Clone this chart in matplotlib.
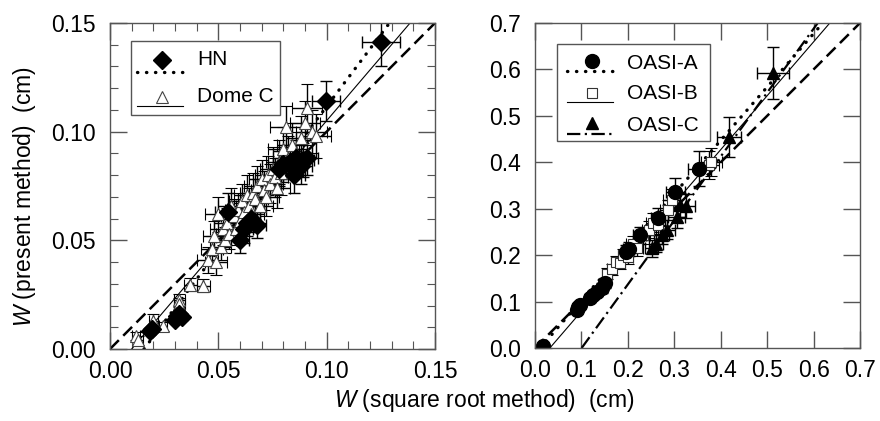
import matplotlib
matplotlib.use('Agg')
import matplotlib.pyplot as plt
from matplotlib.ticker import MultipleLocator, FormatStrFormatter

plt.rcParams['font.family'] = ['Liberation Sans', 'DejaVu Sans']
plt.rcParams['mathtext.fontset'] = 'custom'
plt.rcParams['mathtext.rm'] = 'Liberation Sans'
plt.rcParams['mathtext.it'] = 'Liberation Sans:italic'

# ---- left panel data: HN (diamonds) and Dome C (open triangles) ----
hn_x = [0.0185, 0.0195, 0.030, 0.031, 0.032, 0.033, 0.0545, 0.060, 0.062, 0.063,
        0.065, 0.068, 0.078, 0.080, 0.083, 0.085, 0.086, 0.088, 0.089, 0.091,
        0.0996, 0.1251]
hn_y = [0.0085, 0.0090, 0.0135, 0.0150, 0.0160, 0.0145, 0.0630, 0.050, 0.055, 0.058,
        0.060, 0.057, 0.083, 0.085, 0.086, 0.080, 0.088, 0.084, 0.087, 0.088,
        0.1143, 0.1414]
hn_xerr = [0.001, 0.001, 0.001, 0.001, 0.001, 0.001, 0.006, 0.004, 0.004, 0.004,
           0.004, 0.004, 0.005, 0.005, 0.005, 0.005, 0.005, 0.005, 0.005, 0.005,
           0.0065, 0.0088]
hn_yerr = [0.001, 0.001, 0.001, 0.001, 0.001, 0.001, 0.009, 0.006, 0.006, 0.006,
           0.006, 0.006, 0.008, 0.008, 0.008, 0.008, 0.008, 0.008, 0.008, 0.008,
           0.0092, 0.011]

dc_x = [0.012, 0.013, 0.020, 0.0245, 0.032, 0.032, 0.037, 0.043,
        0.045, 0.047, 0.048, 0.049, 0.050, 0.051, 0.052, 0.053, 0.054, 0.055,
        0.056, 0.057, 0.058, 0.059, 0.060, 0.061, 0.062, 0.063, 0.064, 0.065,
        0.066, 0.067, 0.068, 0.069, 0.070, 0.071, 0.072, 0.073, 0.074, 0.075,
        0.076, 0.077, 0.078, 0.079, 0.080, 0.081, 0.082, 0.084, 0.086, 0.088,
        0.090, 0.091, 0.093, 0.095]
dc_y = [0.006, 0.004, 0.013, 0.0105, 0.0225, 0.0205, 0.0295, 0.029,
        0.041, 0.046, 0.052, 0.040, 0.062, 0.047, 0.055, 0.050, 0.058, 0.053,
        0.066, 0.061, 0.055, 0.064, 0.059, 0.068, 0.063, 0.071, 0.066, 0.062,
        0.072, 0.069, 0.075, 0.066, 0.078, 0.073, 0.070, 0.080, 0.076, 0.083,
        0.079, 0.074, 0.086, 0.081, 0.092, 0.102, 0.088, 0.094, 0.090, 0.097,
        0.104, 0.111, 0.100, 0.098]
dc_xerr = [0.002, 0.002, 0.002, 0.002, 0.0025, 0.0025, 0.003, 0.003,
           0.005, 0.005, 0.005, 0.005, 0.006, 0.005, 0.006, 0.005, 0.006, 0.006,
           0.006, 0.006, 0.006, 0.006, 0.006, 0.006, 0.006, 0.006, 0.006, 0.006,
           0.006, 0.006, 0.006, 0.006, 0.006, 0.006, 0.006, 0.006, 0.006, 0.006,
           0.006, 0.006, 0.006, 0.006, 0.007, 0.007, 0.007, 0.007, 0.007, 0.007,
           0.007, 0.007, 0.007, 0.007]
dc_yerr = [0.002, 0.002, 0.003, 0.002, 0.003, 0.003, 0.003, 0.003,
           0.006, 0.006, 0.007, 0.006, 0.008, 0.006, 0.007, 0.006, 0.007, 0.007,
           0.008, 0.008, 0.007, 0.008, 0.008, 0.008, 0.008, 0.009, 0.008, 0.008,
           0.009, 0.009, 0.009, 0.008, 0.009, 0.009, 0.009, 0.009, 0.009, 0.010,
           0.009, 0.009, 0.010, 0.010, 0.010, 0.010, 0.010, 0.010, 0.010, 0.010,
           0.010, 0.011, 0.010, 0.010]

# fit lines (end points)
left_one_x, left_one_y = [0.0, 0.15], [0.0, 0.15]
hn_fit_x, hn_fit_y = [0.0157, 0.129], [0.0, 0.15]
dc_fit_x, dc_fit_y = [0.010, 0.1385], [0.0, 0.15]

# ---- right panel data: OASI-A (circles), OASI-B (open squares), OASI-C (triangles) ----
a_x = [0.018, 0.090, 0.093, 0.097, 0.118, 0.125, 0.133, 0.144, 0.151, 0.197,
       0.202, 0.226, 0.265, 0.302, 0.353]
a_y = [0.004, 0.082, 0.088, 0.092, 0.108, 0.114, 0.121, 0.129, 0.140, 0.207,
       0.213, 0.243, 0.280, 0.337, 0.386]
a_xerr = [0.004, 0.006, 0.006, 0.006, 0.007, 0.007, 0.007, 0.008, 0.008, 0.012,
          0.012, 0.014, 0.016, 0.020, 0.023]
a_yerr = [0.004, 0.006, 0.006, 0.006, 0.008, 0.008, 0.008, 0.010, 0.010, 0.015,
          0.015, 0.018, 0.022, 0.030, 0.038]

b_x = [0.155, 0.165, 0.175, 0.183, 0.190, 0.200, 0.210, 0.220, 0.233, 0.245,
       0.255, 0.265, 0.287, 0.294, 0.375, 0.380]
b_y = [0.160, 0.170, 0.185, 0.183, 0.200, 0.195, 0.225, 0.215, 0.243, 0.255,
       0.270, 0.265, 0.297, 0.319, 0.395, 0.401]
b_xerr = [0.010, 0.010, 0.011, 0.011, 0.012, 0.012, 0.013, 0.013, 0.014, 0.015,
          0.015, 0.016, 0.017, 0.018, 0.022, 0.022]
b_yerr = [0.012, 0.012, 0.013, 0.013, 0.014, 0.014, 0.016, 0.016, 0.018, 0.019,
          0.020, 0.020, 0.022, 0.024, 0.030, 0.030]

c_x = [0.251, 0.260, 0.273, 0.285, 0.305, 0.312, 0.325, 0.418, 0.513]
c_y = [0.215, 0.225, 0.243, 0.255, 0.283, 0.308, 0.305, 0.455, 0.592]
c_xerr = [0.014, 0.015, 0.016, 0.016, 0.018, 0.018, 0.019, 0.025, 0.034]
c_yerr = [0.018, 0.019, 0.020, 0.021, 0.024, 0.026, 0.026, 0.043, 0.056]

right_one_x, right_one_y = [0.0, 0.7], [0.0, 0.7]
a_fit_x, a_fit_y = [0.011, 0.620], [0.0, 0.7]
b_fit_x, b_fit_y = [0.032, 0.635], [0.0, 0.7]
c_fit_x, c_fit_y = [0.1005, 0.609], [0.0, 0.7]

FS = 16.5
SPINE = '#555555'

fig = plt.figure(figsize=(8.8, 4.21), dpi=100)
ax1 = fig.add_axes([110 / 880, 72 / 421, 325 / 880, 326 / 421])
ax2 = fig.add_axes([535 / 880, 73 / 421, 325 / 880, 325 / 421])

eb = dict(ecolor='black', elinewidth=1.0, capsize=4, capthick=1.0, ls='none')
dotted = dict(color='black', lw=2.4, ls=(0, (0.1, 2.6)), dash_capstyle='round')
dashed = dict(color='black', lw=1.8, ls=(0, (5, 2.5)))
dashdot = dict(color='black', lw=1.6, ls=(0, (6, 2, 1, 2)))

# left panel
ax1.plot(left_one_x, left_one_y, **dashed)
ax1.plot(hn_fit_x, hn_fit_y, **dotted)
ax1.plot(dc_fit_x, dc_fit_y, color='black', lw=0.8)
ax1.errorbar(dc_x, dc_y, xerr=dc_xerr, yerr=dc_yerr, fmt='^', ms=8,
             mfc='white', mec='#444444', mew=0.8, **eb)
ax1.errorbar(hn_x, hn_y, xerr=hn_xerr, yerr=hn_yerr, fmt='D', ms=9,
             mfc='black', mec='black', **eb)
ax1.set_xlim(0, 0.15)
ax1.set_ylim(0, 0.15)
ax1.xaxis.set_major_locator(MultipleLocator(0.05))
ax1.xaxis.set_minor_locator(MultipleLocator(0.01))
ax1.yaxis.set_major_locator(MultipleLocator(0.05))
ax1.yaxis.set_minor_locator(MultipleLocator(0.01))
ax1.xaxis.set_major_formatter(FormatStrFormatter('%.2f'))
ax1.yaxis.set_major_formatter(FormatStrFormatter('%.2f'))

# right panel
ax2.plot(right_one_x, right_one_y, **dashed)
ax2.plot(a_fit_x, a_fit_y, **dotted)
ax2.plot(b_fit_x, b_fit_y, color='black', lw=0.8)
ax2.plot(c_fit_x, c_fit_y, **dashdot)
ax2.errorbar(b_x, b_y, xerr=b_xerr, yerr=b_yerr, fmt='s', ms=7,
             mfc='white', mec='#333333', mew=0.8, **eb)
ax2.errorbar(c_x, c_y, xerr=c_xerr, yerr=c_yerr, fmt='^', ms=9,
             mfc='black', mec='black', **eb)
ax2.errorbar(a_x, a_y, xerr=a_xerr, yerr=a_yerr, fmt='o', ms=10,
             mfc='black', mec='black', **eb)
ax2.set_xlim(0, 0.7)
ax2.set_ylim(0, 0.7)
ax2.xaxis.set_major_locator(MultipleLocator(0.1))
ax2.yaxis.set_major_locator(MultipleLocator(0.1))
ax2.xaxis.set_major_formatter(FormatStrFormatter('%.1f'))
ax2.yaxis.set_major_formatter(FormatStrFormatter('%.1f'))

for ax in (ax1, ax2):
    for s in ax.spines.values():
        s.set_color(SPINE)
        s.set_linewidth(1.0)
    ax.tick_params(which='both', direction='in', top=True, right=True,
                   color=SPINE, labelsize=FS, labelcolor='black')
    ax.tick_params(which='major', length=12, width=1.0)
    ax.tick_params(which='minor', length=6, width=0.8)
    ax.tick_params(axis='x', pad=8)
    ax.tick_params(axis='y', pad=10)


def legend_box(ax, box, mx, lx, tx, entries):
    x0, y0, x1, y1 = box
    ax.add_patch(plt.Rectangle((x0, y0), x1 - x0, y1 - y0, transform=ax.transAxes,
                               fill=True, fc='white', ec=SPINE, lw=1.0, zorder=5))
    for (my, ly, ty, label, mk, line) in entries:
        ax.plot([mx], [my], transform=ax.transAxes, zorder=6, clip_on=False, **mk)
        ax.plot(lx, [ly, ly], transform=ax.transAxes, zorder=6, **line)
        ax.text(tx, ty, label, transform=ax.transAxes, fontsize=15,
                va='center', ha='left', zorder=6)


solid = dict(color='black', lw=0.8)
legend_box(ax1, (0.064, 0.718, 0.523, 0.946), 0.159, [0.082, 0.226], 0.267, [
    (0.887, 0.851, 0.887, 'HN', dict(marker='D', ms=9, color='black', ls='none'), dotted),
    (0.774, 0.745, 0.774, 'Dome C', dict(marker='^', ms=8, mfc='white', mec='#444444', mew=0.8, ls='none'), solid),
])
legend_box(ax2, (0.068, 0.637, 0.538, 0.935), 0.174, [0.097, 0.241], 0.282, [
    (0.883, 0.852, 0.876, 'OASI-A', dict(marker='o', ms=10, color='black', ls='none'), dotted),
    (0.784, 0.756, 0.784, 'OASI-B', dict(marker='s', ms=7, mfc='white', mec='#333333', mew=0.8, ls='none'), solid),
    (0.691, 0.660, 0.686, 'OASI-C', dict(marker='^', ms=9, color='black', ls='none'), dashdot),
])

fig.text(25 / 880, 1 - 196 / 421, r'$\it{W}$ (present method)  (cm)', rotation=90,
         ha='center', va='center', fontsize=FS)
fig.text(484 / 880, 1 - 400 / 421, r'$\it{W}$ (square root method)  (cm)',
         ha='center', va='center', fontsize=FS)

fig.savefig('out.png', dpi=100)
